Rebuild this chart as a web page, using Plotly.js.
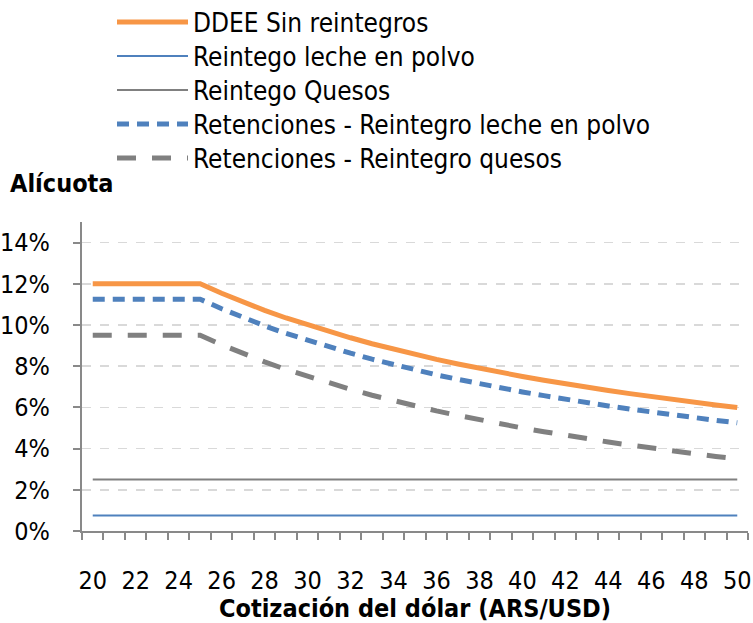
<!DOCTYPE html>
<html><head><meta charset="utf-8">
<script src="https://cdn.plot.ly/plotly-3.0.1.min.js"></script>
<style>html,body{margin:0;padding:0;background:#fff}#chart{width:753px;height:623px}</style>
</head><body><div id="chart"></div>
<script>
const dolar = [20,21,22,23,24,25,26,27,28,29,30,31,32,33,34,35,36,37,38,39,40,41,42,43,44,45,46,47,48,49,50];
const ddee = [12,12,12,12,12,12,11.54,11.11,10.71,10.34,10,9.68,9.38,9.09,8.82,8.57,8.33,8.11,7.89,7.69,7.5,7.32,7.14,6.98,6.82,6.67,6.52,6.38,6.25,6.12,6];
const reintLeche = [0.75,0.75,0.75,0.75,0.75,0.75,0.75,0.75,0.75,0.75,0.75,0.75,0.75,0.75,0.75,0.75,0.75,0.75,0.75,0.75,0.75,0.75,0.75,0.75,0.75,0.75,0.75,0.75,0.75,0.75,0.75];
const reintQuesos = [2.5,2.5,2.5,2.5,2.5,2.5,2.5,2.5,2.5,2.5,2.5,2.5,2.5,2.5,2.5,2.5,2.5,2.5,2.5,2.5,2.5,2.5,2.5,2.5,2.5,2.5,2.5,2.5,2.5,2.5,2.5];
const netoLeche = [11.25,11.25,11.25,11.25,11.25,11.25,10.79,10.36,9.96,9.59,9.25,8.93,8.63,8.34,8.07,7.82,7.58,7.36,7.14,6.94,6.75,6.57,6.39,6.23,6.07,5.92,5.77,5.63,5.5,5.37,5.25];
const netoQuesos = [9.5,9.5,9.5,9.5,9.5,9.5,9.04,8.61,8.21,7.84,7.5,7.18,6.88,6.59,6.32,6.07,5.83,5.61,5.39,5.19,5,4.82,4.64,4.48,4.32,4.17,4.02,3.88,3.75,3.62,3.5];
const seriesNames = ["DDEE Sin reintegros","Reintego leche en polvo","Reintego Quesos","Retenciones - Reintegro leche en polvo","Retenciones - Reintegro quesos"];
const xTickVals = [20,22,24,26,28,30,32,34,36,38,40,42,44,46,48,50];
const yTickVals = [0,2,4,6,8,10,12,14];
const yTickText = ["0%","2%","4%","6%","8%","10%","12%","14%"];

const FONT = "DejaVu Sans Condensed, DejaVu Sans, sans-serif";
const styles = [
  {color:"#F79646", width:5, dash:"solid"},
  {color:"#4F81BD", width:2, dash:"solid"},
  {color:"#808080", width:2, dash:"solid"},
  {color:"#4F81BD", width:5, dash:"12px,8px"},
  {color:"#808080", width:5, dash:"19px,16px"}
];
const ys = [ddee, reintLeche, reintQuesos, netoLeche, netoQuesos];
const order = [1,2,4,3,0];
const traces = order.map(i => ({
  x: dolar, y: ys[i], type:"scatter", mode:"lines", name: seriesNames[i],
  line:{color:styles[i].color, width:styles[i].width, dash:styles[i].dash},
  showlegend:false, hoverinfo:"skip"
}));

const W = 753, H = 623;
const plotL = 82, plotR = 748, plotT = 222, plotB = 531;
function px2x(p){ return (p - plotL)/(plotR - plotL); }
function py2y(p){ return (plotB - p)/(plotB - plotT); }
const shapes = [], annotations = [];
const legTop = 22, legStep = 34;
for (let i = 0; i < 5; i++) {
  const py = legTop + i*legStep;
  shapes.push({type:"line", xref:"paper", yref:"paper",
    x0:px2x(117), x1:px2x(188), y0:py2y(py), y1:py2y(py),
    line:{color:styles[i].color, width:styles[i].width, dash:styles[i].dash}});
  annotations.push({xref:"paper", yref:"paper", x:px2x(191), y:py2y(py+1), xanchor:"left", yanchor:"middle",
    text:seriesNames[i], showarrow:false, font:{family:FONT, size:26, color:"#000"}});
}
annotations.push({xref:"paper", yref:"paper", x:px2x(8), y:py2y(184), xanchor:"left", yanchor:"middle",
  text:"<b>Alícuota</b>", showarrow:false, font:{family:FONT, size:25, color:"#000"}});

const layout = {
  width:W, height:H,
  margin:{l:plotL, r:W-plotR, t:plotT, b:H-plotB},
  paper_bgcolor:"#fff", plot_bgcolor:"#fff",
  font:{family:FONT, color:"#000"},
  showlegend:false,
  xaxis:{
    range:[19.5,50.5], tickvals:xTickVals, ticktext:xTickVals.map(String),
    ticks:"", showgrid:false, zeroline:false, ticklabelstandoff:26,
    showline:true, linecolor:"#898989", linewidth:2,
    tickfont:{family:FONT, size:25, color:"#000"},
    minor:{tick0:19.5, dtick:1, ticks:"outside", ticklen:7, tickcolor:"#898989", tickwidth:2, showgrid:false},
    title:{text:"<b>Cotización del dólar (ARS/USD)</b>", font:{family:FONT, size:25, color:"#000"}, standoff:6}
  },
  yaxis:{
    range:[0,15], tickvals:yTickVals, ticktext:yTickText,
    ticks:"outside", ticklen:7, tickcolor:"#898989", tickwidth:2, ticklabelstandoff:18,
    showgrid:true, gridcolor:"#d9d9d9", griddash:"dash", gridwidth:1.5,
    zeroline:false, showline:true, linecolor:"#898989", linewidth:2,
    tickfont:{family:FONT, size:25, color:"#000"}
  },
  shapes:shapes, annotations:annotations
};
Plotly.newPlot("chart", traces, layout, {staticPlot:true});
</script></body></html>
